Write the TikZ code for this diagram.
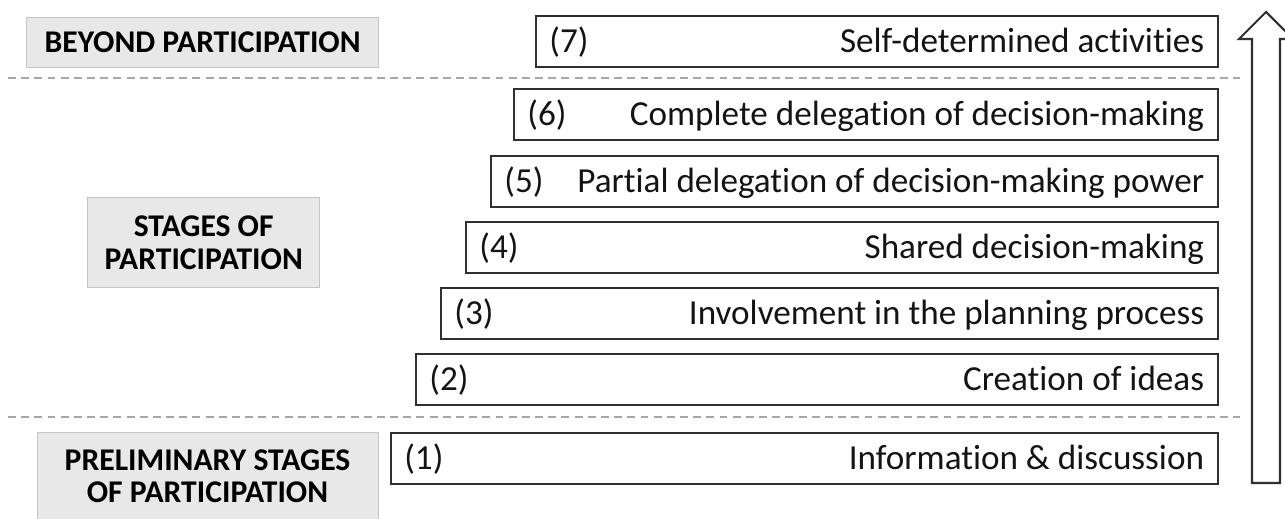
\documentclass[tikz,border=0pt]{standalone}
\usepackage{fontspec}
\setmainfont{Carlito}[Ligatures={NoCommon}]
\definecolor{labelfill}{HTML}{E8E8E8}
\definecolor{labeldraw}{HTML}{C4C4C4}
\definecolor{dashgray}{HTML}{A6A6A6}
\definecolor{boxdraw}{HTML}{303030}
\tikzset{
  stagebox/.style={draw=boxdraw, line width=1.4pt, fill=white, anchor=north west, inner sep=0pt},
  labelbox/.style={draw=labeldraw, line width=0.8pt, fill=labelfill, anchor=north west, inner sep=0pt,
    font=\fontsize{18}{18.5}\selectfont\bfseries, align=center, text=black},
  stagetext/.style={font=\fontsize{20}{22}\selectfont, text=black!92, inner sep=0pt},
  divider/.style={draw=dashgray, line width=1.4pt, dash pattern=on 4.5pt off 3pt},
  bigarrow/.style={draw=boxdraw, line width=1.2pt, fill=white}
}
\newcommand{\stagerow}[5]{%
  \node[stagebox, minimum width={(1217-#2)*0.02cm}, minimum height=1.02cm] (#1) at (#2,#3) {};
  \node[stagetext, anchor=base west] (#1n) at ([xshift=0.28cm, yshift=-0.22cm]#1.west) {#4};
  \node[stagetext, anchor=base east] (#1t) at ([xshift=-0.3cm, yshift=-0.22cm]#1.east) {#5};
}
\begin{document}
\begin{tikzpicture}[x=0.02cm, y=-0.02cm]
\useasboundingbox (0,0) rectangle (1285,519);
\clip (0,0) rectangle (1285,519);
\fill[white] (0,0) rectangle (1285,519);
% dividers
\draw[divider] (8,78) -- (1240,78);
\draw[divider] (8,417) -- (1240,417);
% stages
\stagerow{s7}{535}{15}{(7)}{Self-determined activities}
\stagerow{s6}{513}{88}{(6)}{Complete delegation of decision-making}
\stagerow{s5}{490}{155}{(5)}{Partial delegation of decision-making power}
\stagerow{s4}{465}{221}{(4)}{Shared decision-making}
\stagerow{s3}{440}{287}{(3)}{Involvement in the planning process}
\stagerow{s2}{415}{353}{(2)}{Creation of ideas}
\stagerow{s1}{390}{432}{(1)}{Information \& discussion}
% labels
\node[labelbox, minimum width=7.04cm, minimum height=1.0cm] (lb) at (26,17) {BEYOND PARTICIPATION};
\node[labelbox, minimum width=4.64cm, minimum height=1.8cm] (ls) at (87,197) {STAGES OF\\PARTICIPATION};
\node[labelbox, minimum width=6.82cm, minimum height=2.1cm] (lp) at (37,432) {};
\node[font=\fontsize{18}{18.5}\selectfont\bfseries, align=center, anchor=north, inner sep=0pt] (lpt) at (207.5,449) {PRELIMINARY STAGES\\OF PARTICIPATION};
% arrow
\draw[bigarrow] (1252,483) -- (1252,39) -- (1239,39) -- (1266,12) -- (1293,39) -- (1280,39) -- (1280,483) -- cycle;
\end{tikzpicture}
\end{document}
